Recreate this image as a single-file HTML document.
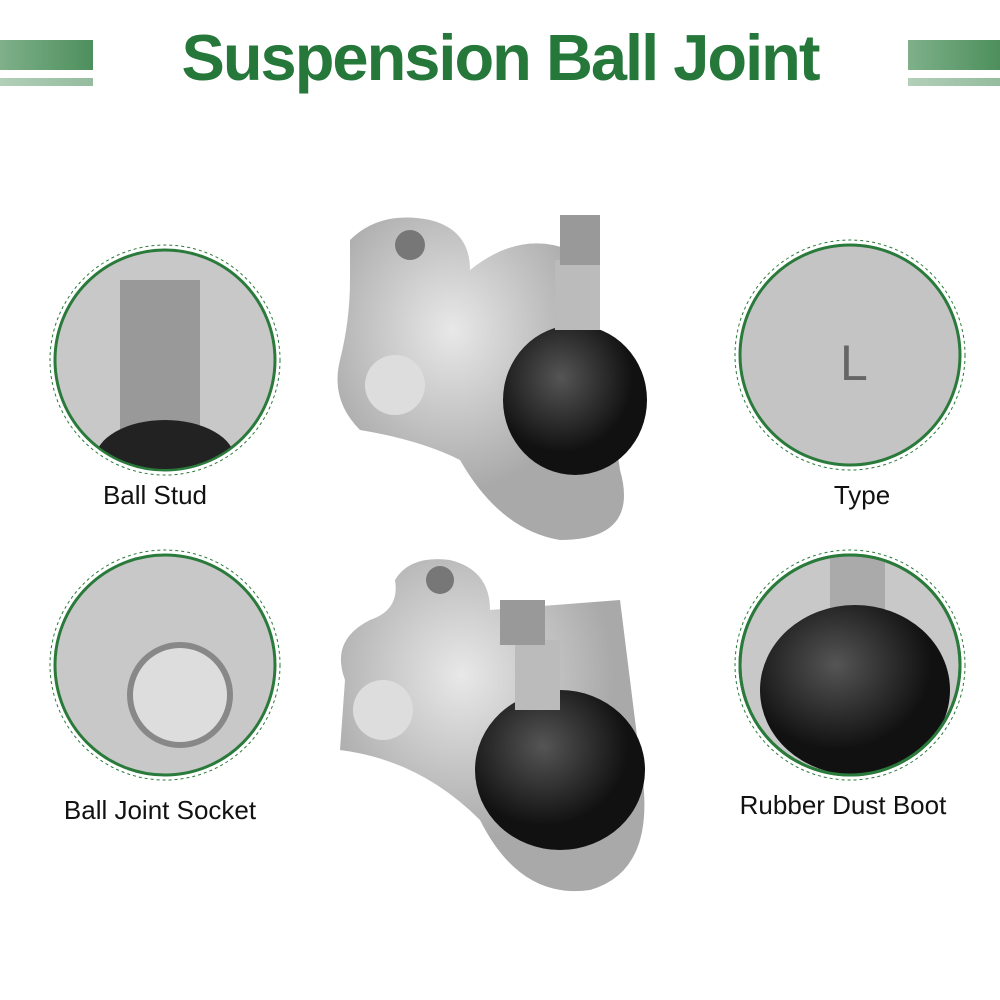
<!DOCTYPE html>
<html><head><style>
body{margin:0;width:1000px;height:1000px;background:#fff;position:relative;overflow:hidden;font-family:"Liberation Sans",sans-serif}
.t{position:absolute;left:0;width:1000px;top:20px;text-align:center;font-size:65px;font-weight:bold;color:#26773a;letter-spacing:-2px}
.bar{position:absolute;background:linear-gradient(90deg,#7fb08a,#4d8f5c)}
.lbl{position:absolute;font-size:26px;color:#111;text-align:center;width:300px}
</style></head><body>
<div class="bar" style="left:0;top:40px;width:93px;height:30px"></div>
<div class="bar" style="left:0;top:78px;width:93px;height:8px;opacity:.6"></div>
<div class="bar" style="left:908px;top:40px;width:92px;height:30px"></div>
<div class="bar" style="left:908px;top:78px;width:92px;height:8px;opacity:.6"></div>
<div class="t">Suspension Ball Joint</div>
<svg width="1000" height="1000" style="position:absolute;left:0;top:0">
<defs>
<radialGradient id="m" cx="40%" cy="35%"><stop offset="0" stop-color="#e8e8e8"/><stop offset="1" stop-color="#a9a9a9"/></radialGradient>
<radialGradient id="r" cx="40%" cy="35%"><stop offset="0" stop-color="#555"/><stop offset="1" stop-color="#111"/></radialGradient>
<clipPath id="c4"><circle cx="850" cy="665" r="109"/></clipPath>
<clipPath id="c1"><circle cx="165" cy="360" r="109"/></clipPath>
</defs>
<path d="M350 240 Q380 210 430 220 Q470 230 470 270 Q520 230 570 250 L600 330 L620 470 Q640 540 560 540 Q500 530 460 460 Q420 440 360 430 Q330 400 340 360 Q350 320 350 280Z" fill="url(#m)"/>
<circle cx="410" cy="245" r="15" fill="#777"/>
<circle cx="395" cy="385" r="30" fill="#ddd"/>
<ellipse cx="575" cy="400" rx="72" ry="75" fill="url(#r)"/>
<rect x="555" y="260" width="45" height="70" fill="#bbb"/>
<rect x="560" y="215" width="40" height="50" fill="#999"/>
<path d="M345 680 Q330 640 370 620 Q400 610 395 580 Q410 555 450 560 Q490 570 490 610 L620 600 L640 760 Q660 870 590 890 Q520 900 480 820 Q420 760 340 750Z" fill="url(#m)"/>
<circle cx="440" cy="580" r="14" fill="#777"/>
<circle cx="383" cy="710" r="30" fill="#ddd"/>
<ellipse cx="560" cy="770" rx="85" ry="80" fill="url(#r)"/>
<rect x="515" y="640" width="45" height="70" fill="#bbb"/>
<rect x="500" y="600" width="45" height="45" fill="#999"/>
<g fill="none" stroke="#2a7a3b">
<circle cx="165" cy="360" r="110" stroke-width="3" fill="#c8c8c8"/><circle cx="165" cy="360" r="115" stroke-dasharray="3 3"/>
<circle cx="165" cy="665" r="110" stroke-width="3" fill="#c8c8c8"/><circle cx="165" cy="665" r="115" stroke-dasharray="3 3"/>
<circle cx="850" cy="355" r="110" stroke-width="3" fill="#c4c4c4"/><circle cx="850" cy="355" r="115" stroke-dasharray="3 3"/>
<circle cx="850" cy="665" r="110" stroke-width="3" fill="#c8c8c8"/><circle cx="850" cy="665" r="115" stroke-dasharray="3 3"/>
</g>
<g clip-path="url(#c1)"><rect x="120" y="280" width="80" height="160" fill="#999"/><ellipse cx="165" cy="460" rx="70" ry="40" fill="#222"/></g>
<circle cx="180" cy="695" r="50" fill="#ddd" stroke="#888" stroke-width="6"/>
<text x="840" y="380" font-size="50" fill="#666" font-family="Liberation Sans">L</text>
<g clip-path="url(#c4)"><rect x="830" y="550" width="55" height="60" fill="#aaa"/><ellipse cx="855" cy="690" rx="95" ry="85" fill="url(#r)"/></g>
<circle cx="850" cy="665" r="110" stroke-width="3" stroke="#2a7a3b" fill="none"/>
</svg>
<div class="lbl" style="left:5px;top:480px">Ball Stud</div>
<div class="lbl" style="left:10px;top:795px">Ball Joint Socket</div>
<div class="lbl" style="left:712px;top:480px">Type</div>
<div class="lbl" style="left:693px;top:790px">Rubber Dust Boot</div>
</body></html>
